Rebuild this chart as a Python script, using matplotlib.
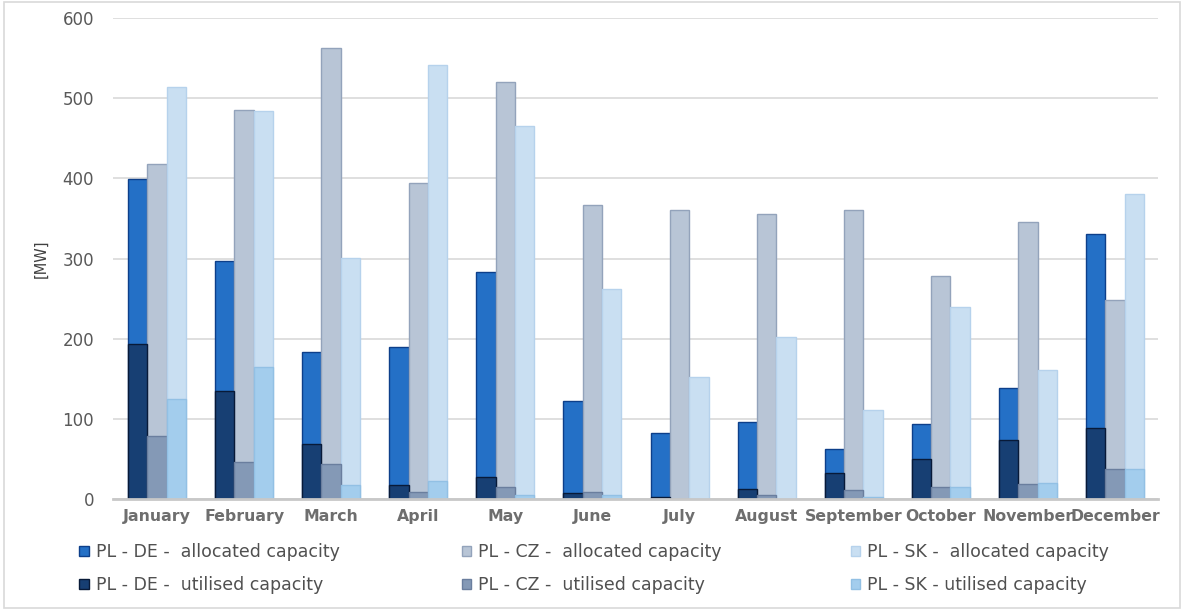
import numpy as np
import matplotlib.pyplot as plt
from matplotlib.patches import Rectangle

# monthly capacity on the PL borders [MW]
meses = ['January', 'February', 'March', 'April', 'May', 'June', 'July',
         'August', 'September', 'October', 'November', 'December']

de_asignado = [399, 297, 183, 189, 283, 122, 82, 96, 63, 94, 139, 330]
de_utilizado = [193, 135, 69, 18, 27, 8, 3, 13, 33, 50, 73, 89]
cz_asignado = [418, 485, 563, 394, 520, 367, 360, 356, 360, 278, 345, 248]
cz_utilizado = [78, 46, 44, 9, 15, 9, 0, 5, 11, 15, 19, 37]
sk_asignado = [514, 484, 301, 541, 465, 262, 152, 202, 111, 239, 161, 380]
sk_utilizado = [125, 165, 18, 22, 5, 5, 0, 0, 3, 15, 20, 37]

etiquetas = ['PL - DE -  allocated capacity', 'PL - DE -  utilised capacity',
             'PL - CZ -  allocated capacity', 'PL - CZ -  utilised capacity',
             'PL - SK -  allocated capacity', 'PL - SK - utilised capacity']

fig = plt.figure(figsize=(12.03, 6.12), dpi=100)
ax = fig.add_axes([0.0943, 0.1846, 0.8687, 0.786])

x = np.arange(len(meses))
ancho = 0.222

series = [
    (de_asignado, de_utilizado, -ancho, ('#2470C6', '#0D3F8A'), ('#173F73', '#081A38')),
    (cz_asignado, cz_utilizado, 0, ('#B8C5D6', '#93A3BB'), ('#8499B6', '#6A7E9E')),
    (sk_asignado, sk_utilizado, ancho, ('#C9DFF2', '#B6D2EC'), ('#A3CDED', '#92C0E4')),
]

handles = []
for asignado, utilizado, dx, c_a, c_u in series:
    ha = ax.bar(x + dx, asignado, ancho, color=c_a[0], edgecolor=c_a[1], linewidth=1, zorder=2)
    hu = ax.bar(x + dx, utilizado, ancho, color=c_u[0], edgecolor=c_u[1], linewidth=1, zorder=3)
    handles += [ha, hu]

ax.set_xlim(-0.5, len(meses) - 0.5)
ax.set_ylim(0, 600)
ax.set_yticks(range(0, 601, 100))
ax.yaxis.grid(True, color='#D9D9D9', linewidth=1.2)
ax.set_axisbelow(True)
for s in ['top', 'right', 'left']:
    ax.spines[s].set_visible(False)
ax.spines['bottom'].set_color('#C8C8C8')
ax.spines['bottom'].set_linewidth(2)
ax.spines['bottom'].set_zorder(4)
ax.tick_params(length=0)
ax.tick_params(axis='y', labelsize=12, labelcolor='#595959', pad=14)
ax.set_xticks(x)
ax.set_xticklabels(meses, fontsize=11.3, fontweight='bold', color='#6E6E6E')
ax.tick_params(axis='x', pad=7)
ax.set_ylabel('[MW]', fontsize=10.5, color='#404040', labelpad=10)

# legend in three columns of two entries
posiciones = [0.053, 0.371, 0.694]
for i, px in enumerate(posiciones):
    fig.legend(handles[2 * i:2 * i + 2], etiquetas[2 * i:2 * i + 2],
               loc='upper left', bbox_to_anchor=(px, 0.138), frameon=False,
               fontsize=12.5, labelcolor='#505050', handlelength=0.55,
               handleheight=0.55, handletextpad=0.4, labelspacing=0.85)

fig.patches.append(Rectangle((0.003, 0.007), 0.978, 0.99, transform=fig.transFigure,
                             fill=False, edgecolor='#D9D9D9', linewidth=1.2))

fig.savefig('out.png', dpi=100)
